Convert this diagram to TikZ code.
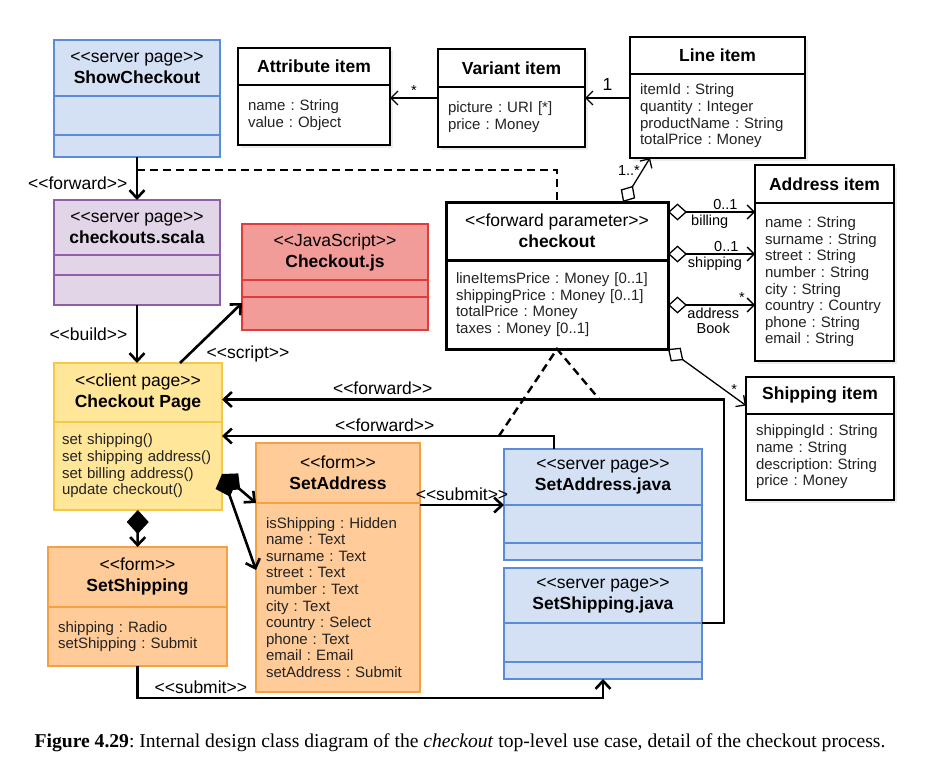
\documentclass[tikz,border=0pt]{standalone}
\usepackage{fontspec}
\setmainfont{Liberation Sans}[Ligatures=TeXOff]
\newfontfamily\capfont{Liberation Serif}
\usetikzlibrary{shapes,arrows.meta,calc,positioning,shadows}
\frenchspacing

\newcommand{\stereo}[1]{<<#1>>}

\definecolor{blueline}{RGB}{90,140,215}
\definecolor{bluefill}{RGB}{212,225,245}
\definecolor{purpleline}{RGB}{145,95,170}
\definecolor{purplefill}{RGB}{225,213,231}
\definecolor{redline}{RGB}{225,60,60}
\definecolor{redfill}{RGB}{241,156,153}
\definecolor{yellowline}{RGB}{245,200,70}
\definecolor{yellowfill}{RGB}{255,230,153}
\definecolor{orangeline}{RGB}{245,160,65}
\definecolor{orangefill}{RGB}{255,204,153}
\definecolor{textgray}{RGB}{35,35,35}

\tikzstyle{clspart} = [draw, rectangle, anchor=north west, outer sep=0pt, inner sep=0pt, line width=2.2pt]
\tikzstyle{clshead} = [clspart, align=center, font=\fontsize{17.5}{21}\selectfont]
\tikzstyle{clsattr} = [clspart, align=left, inner xsep=10pt, text=textgray, font=\fontsize{15}{16.6}\selectfont]
\tikzstyle{srvpage} = [draw=blueline, fill=bluefill]
\tikzstyle{scalapage} = [draw=purpleline, fill=purplefill]
\tikzstyle{jsfile} = [draw=redline, fill=redfill]
\tikzstyle{clientpage} = [draw=yellowline, fill=yellowfill]
\tikzstyle{formbox} = [draw=orangeline, fill=orangefill]
\tikzstyle{itembox} = [draw=black, fill=white, line width=1.8pt, drop shadow={opacity=0.15, shadow xshift=3pt, shadow yshift=-3pt}]
\tikzstyle{parambox} = [draw=black, fill=white, line width=3pt]
\tikzstyle{line} = [draw, line width=2.6pt, -{Straight Barb[length=8pt,width=15pt]}]
\tikzstyle{dep} = [draw, line width=2.4pt, dash pattern=on 8pt off 5pt]
\tikzstyle{comp} = [draw, line width=2.6pt, {Diamond[length=24pt,width=22pt]}-{Straight Barb[length=8pt,width=15pt]}]
\tikzstyle{assoc} = [draw, line width=1.3pt, -{Straight Barb[length=7pt,width=14pt]}]
\tikzstyle{aggr} = [draw, line width=1.3pt, {Diamond[open,length=19pt,width=17pt]}-{Straight Barb[length=7pt,width=14pt]}]
\tikzstyle{lbl} = [font=\fontsize{17.5}{21}\selectfont]
\tikzstyle{mult} = [font=\fontsize{14.5}{15.5}\selectfont, inner sep=2pt]

\begin{document}
\begin{tikzpicture}[x=1pt, y=-1pt, node distance=0pt]
  \useasboundingbox (0,0) rectangle (941,779);

  % pages and forms
  \node[clshead, srvpage, minimum width=166, minimum height=56] (show1) at (54,40) {\stereo{server page}\\\textbf{ShowCheckout}};
  \node[clspart, srvpage, minimum width=166, minimum height=39, below=of show1] (show2) {};
  \node[clspart, srvpage, minimum width=166, minimum height=22, below=of show2] (show3) {};

  \node[clshead, scalapage, minimum width=166, minimum height=55] (scala1) at (54,200) {\stereo{server page}\\\textbf{checkouts.scala}};
  \node[clspart, scalapage, minimum width=166, minimum height=20, below=of scala1] (scala2) {};
  \node[clspart, scalapage, minimum width=166, minimum height=30, below=of scala2] (scala3) {};

  \node[clshead, jsfile, minimum width=186, minimum height=56] (js1) at (242,224) {\stereo{JavaScript}\\\textbf{Checkout.js}};
  \node[clspart, jsfile, minimum width=186, minimum height=17, below=of js1] (js2) {};
  \node[clspart, jsfile, minimum width=186, minimum height=33, below=of js2] (js3) {};

  \node[clshead, clientpage, minimum width=168, minimum height=59] (page1) at (54,363) {\stereo{client page}\\\textbf{Checkout Page}};
  \node[clsattr, clientpage, inner xsep=8pt, text width=152, minimum height=88, below=of page1] (page2) {set shipping()\\set shipping address()\\set billing address()\\update checkout()};

  \node[clshead, formbox, minimum width=179, minimum height=60] (ss1) at (48,547) {\stereo{form}\\\textbf{SetShipping}};
  \node[clsattr, formbox, text width=159, minimum height=59, below=of ss1] (ss2) {shipping : Radio\\setShipping : Submit};

  \node[clshead, formbox, minimum width=164, minimum height=60] (sa1) at (256,443) {\stereo{form}\\\textbf{SetAddress}};
  \node[clsattr, formbox, text width=144, minimum height=189, below=of sa1] (sa2) {isShipping : Hidden\\name : Text\\surname : Text\\street : Text\\number : Text\\city : Text\\country : Select\\phone : Text\\email : Email\\setAddress : Submit};

  \node[clshead, srvpage, minimum width=198, minimum height=56] (saj1) at (504,449) {\stereo{server page}\\\textbf{SetAddress.java}};
  \node[clspart, srvpage, minimum width=198, minimum height=38, below=of saj1] (saj2) {};
  \node[clspart, srvpage, minimum width=198, minimum height=17, below=of saj2] (saj3) {};

  \node[clshead, srvpage, minimum width=198, minimum height=55] (ssj1) at (504,568) {\stereo{server page}\\\textbf{SetShipping.java}};
  \node[clspart, srvpage, minimum width=198, minimum height=39, below=of ssj1] (ssj2) {};
  \node[clspart, srvpage, minimum width=198, minimum height=17, below=of ssj2] (ssj3) {};

  % items
  \node[clshead, itembox, minimum width=152, minimum height=37] (att1) at (238,48) {\textbf{Attribute item}};
  \node[clsattr, itembox, text width=132, minimum height=60, below=of att1] (att2) {name : String\\value : Object};

  \node[clshead, itembox, minimum width=147, minimum height=38] (var1) at (438,49) {\textbf{Variant item}};
  \node[clsattr, itembox, text width=127, minimum height=60, below=of var1] (var2) {picture : URI [*]\\price : Money};

  \node[clshead, itembox, minimum width=175, minimum height=37] (line1) at (630,37) {\textbf{Line item}};
  \node[clsattr, itembox, text width=155, minimum height=84, below=of line1] (line2) {itemId : String\\quantity : Integer\\productName : String\\totalPrice : Money};

  \node[clshead, parambox, minimum width=222, minimum height=58] (chk1) at (446,202) {\stereo{forward parameter}\\\textbf{checkout}};
  \node[clsattr, parambox, text width=202, minimum height=89, below=of chk1] (chk2) {lineItemsPrice : Money [0..1]\\shippingPrice : Money [0..1]\\totalPrice : Money\\taxes : Money [0..1]};

  \node[clshead, itembox, minimum width=139, minimum height=38] (adr1) at (755,165) {\textbf{Address item}};
  \node[clsattr, itembox, text width=119, minimum height=158, below=of adr1] (adr2) {name : String\\surname : String\\street : String\\number : String\\city : String\\country : Country\\phone : String\\email : String};

  \node[clshead, itembox, minimum width=148, minimum height=37] (shp1) at (746,377) {\textbf{Shipping item}};
  \node[clsattr, itembox, text width=128, minimum height=86, below=of shp1] (shp2) {shippingId : String\\name : String\\description: String\\price : Money};

  % navigation
  \path[line] (show3) -- node[lbl, left=5pt, pos=0.6] {\stereo{forward}} (scala1);
  \path[dep] (show3.south) ++(0,13) -| (chk1.north);
  \path[line] (scala3) -- node[lbl, left=5pt] {\stereo{build}} (scala3 |- page1.north);
  \path[line] ($(page1.north)+(42,0)$) -- node[lbl, pos=0, anchor=west, xshift=22pt, yshift=9pt] {\stereo{script}} ($(js3.north west)+(0,6)$);
  \path[line] (ssj1.south east) -- ++(22,0) |- node[lbl, pos=0.84, above] {\stereo{forward}} coordinate[pos=0.624] (fwa) ($(page1.east)+(0,7)$);
  \path[line] ($(saj1.north west)+(50,0)$) |- node[lbl, pos=0.755, above] {\stereo{forward}} coordinate[pos=0.583] (fwb) ($(page2.north east)+(0,14)$);
  \path[dep] (fwb) -- (chk2.south) -- (fwa);
  \path[line] (sa2.north east |- saj2.north west) -- node[lbl, above] {\stereo{submit}} (saj2.north west);
  \path[line] (ss2.south) -- ++(0,32) -| node[lbl, pos=0.068, above] {\stereo{submit}} (ssj3.south);

  % composition
  \path[comp] (page2) -- (ss1);
  \path[comp] ($(page2.east)+(0,8)$) -- (sa2.north west);
  \path[comp] ($(page2.east)+(0,8)$) -- ($(sa2.north west)+(0,67)$);

  % associations
  \coordinate (va) at ($(var2.north west)+(0,11)$);
  \path[assoc] (va) -- node[mult, above] {*} (att2.east |- va);
  \coordinate (la) at ($(line2.north west)+(0,24)$);
  \path[assoc] (la) -- node[lbl, above=4pt] {1} (var2.east |- la);
  \path[aggr] ($(chk1.north)+(66,0)$) -- node[mult, left, pos=0.72] {1..*} ($(line2.south west)+(20,0)$);
  \coordinate (ba) at ($(chk1.north east)+(0,10)$);
  \path[aggr] (ba) -- node[mult, below, pos=0.48] {billing} node[mult, above, pos=0.66] {0..1} (adr2.west |- ba);
  \coordinate (sh) at ($(chk1.north east)+(0,52)$);
  \path[aggr] (sh) -- node[mult, below, pos=0.54] {shipping} node[mult, above, pos=0.67] {0..1} (adr2.west |- sh);
  \coordinate (ab) at ($(chk2.north east)+(0,45)$);
  \path[aggr] (ab) -- node[mult, below, pos=0.52, align=center] {address\\Book} node[mult, above, pos=0.85] {*} (adr2.west |- ab);
  \path[aggr] (chk2.south east) -- node[mult, above, pos=0.85] {*} ($(shp1.west)+(0,10)$);

  \node[font=\capfont\fontsize{19.6}{24}\selectfont] (caption) at (460,743) {\textbf{Figure 4.29}: Internal design class diagram of the \textit{checkout} top-level use case, detail of the checkout process.};
\end{tikzpicture}
\end{document}
